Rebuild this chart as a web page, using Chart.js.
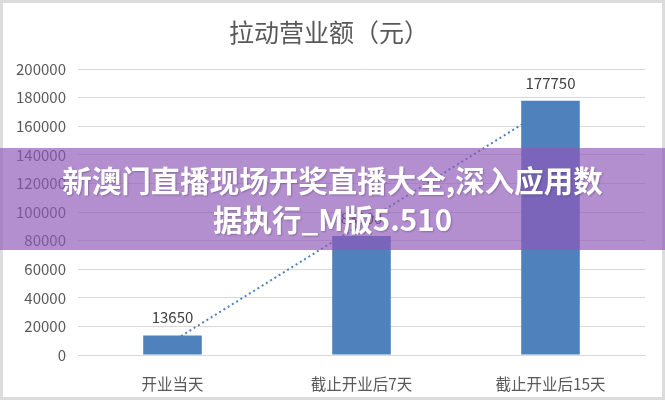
<!DOCTYPE html>
<html>
<head>
<meta charset="utf-8">
<script src="https://cdn.jsdelivr.net/npm/chart.js@4"></script>
<style>
    html, body {
        margin: 0;
        padding: 0;
        background: #dcdcdc;
    }
    .wrap {
        position: relative;
        width: 665px;
        height: 400px;
        box-sizing: border-box;
        border: 3px solid #dcdcdc;
        background: #fff;
    }
    .banner {
        position: absolute;
        left: -3px;
        right: -3px;
        top: 145px;
        height: 102px;
        background: rgba(143, 88, 185, 0.67);
        color: #fff;
        font-family: "Noto Sans CJK SC", sans-serif;
        font-weight: bold;
        font-size: 29.5px;
        line-height: 39px;
        text-align: center;
        padding-top: 12px;
        box-sizing: border-box;
        text-shadow: 1px 1px 2px rgba(0, 0, 0, 0.25);
    }
</style>
</head>
<body>
<div class="wrap">
    <canvas id="chart" width="659" height="394"></canvas>
    <div class="banner">新澳门直播现场开奖直播大全,深入应用数<br>据执行_M版5.510</div>
</div>
<script>
const categories = ["开业当天", "截止开业后7天", "截止开业后15天"];
const revenue = [13650, 83300, 177750];
// linear trend line
const trend = [9500, 91600, 173650];
const yTicks = [0, 20000, 40000, 60000, 80000, 100000, 120000, 140000, 160000, 180000, 200000];

const textColor = "#595959";
const fontName = "'Noto Sans CJK SC', sans-serif";

const valueLabels = {
    id: "valueLabels",
    afterDatasetsDraw(chart) {
        const ctx = chart.ctx;
        const meta = chart.getDatasetMeta(0);
        ctx.save();
        ctx.font = "15px " + fontName;
        ctx.fillStyle = "#404040";
        ctx.textAlign = "center";
        ctx.textBaseline = "middle";
        meta.data.forEach((bar, i) => {
            ctx.fillText(String(revenue[i]), bar.x, bar.y - 18);
        });
        ctx.restore();
    },
};

const chart = document.querySelector("#chart").getContext("2d");

new Chart(chart, {
    type: "bar",
    data: {
        labels: categories,
        datasets: [
            {
                label: "拉动营业额",
                data: revenue,
                backgroundColor: "#4f81bd",
                barPercentage: 0.31,
                categoryPercentage: 1,
            },
            {
                type: "line",
                label: "趋势",
                data: trend,
                borderColor: "#4f81bd",
                borderWidth: 2,
                borderDash: [2, 3],
                pointRadius: 0,
                fill: false,
            },
        ],
    },
    options: {
        responsive: false,
        animation: false,
        layout: {
            padding: { left: 10, right: 17, top: 0, bottom: 0 },
        },
        plugins: {
            legend: { display: false },
            tooltip: { enabled: false },
            title: {
                display: true,
                text: "拉动营业额（元）",
                color: textColor,
                font: { size: 25, family: fontName, weight: "normal" },
                padding: { top: 14, bottom: 22 },
            },
        },
        scales: {
            x: {
                grid: { display: false },
                border: { color: "#d9d9d9" },
                ticks: {
                    color: textColor,
                    font: { size: 15.5, family: fontName },
                    padding: 12,
                },
                afterFit(scale) {
                    scale.height = 42;
                },
            },
            y: {
                min: 0,
                max: 200000,
                afterBuildTicks(scale) {
                    scale.ticks = yTicks.map((v) => ({ value: v }));
                },
                grid: { color: "#d9d9d9", drawTicks: false },
                border: { display: false },
                ticks: {
                    color: textColor,
                    font: { size: 15, family: fontName },
                    padding: 12,
                    callback: (v) => String(v),
                },
                afterFit(scale) {
                    scale.width = 65;
                },
            },
        },
    },
    plugins: [valueLabels],
});
</script>
</body>
</html>
